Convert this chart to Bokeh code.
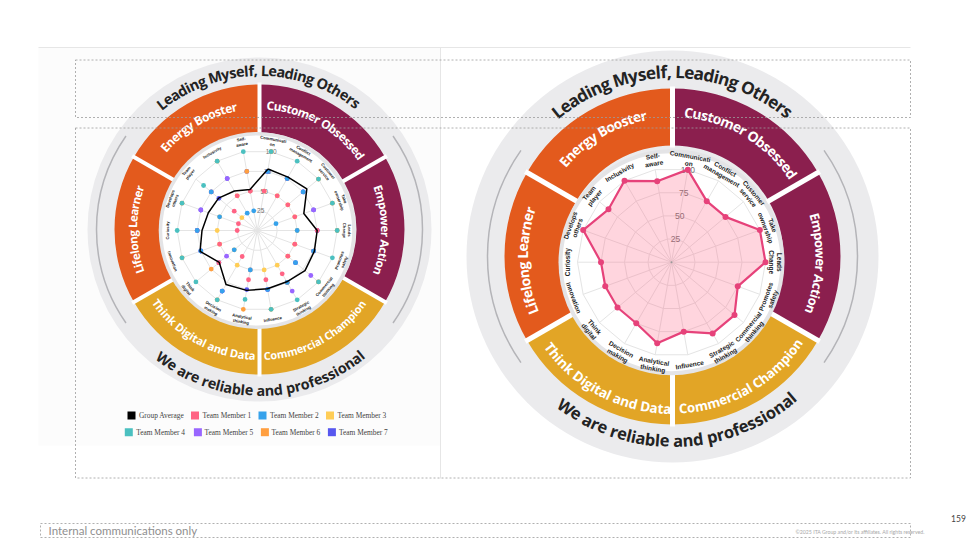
import numpy as np
from bokeh.plotting import figure
from bokeh.models import Range1d
from bokeh.core.properties import value
from bokeh.embed import file_html
from bokeh.resources import INLINE

# ---------------- data ----------------
competencies = ["Communicati\non", "Conflict\nmanagement", "Customer\nservice", "Take\nownership",
                "Leads\nChange", "Promotes\nsafety", "Commercial\nthinking", "Strategic\nthinking",
                "Influence", "Analytical\nthinking", "Decision\nmaking", "Think\ndigital",
                "Innovation", "Curiosity", "Develops\nothers", "Team\nplayer", "Inclusivity", "Self-\naware"]
scale_ticks = [25, 50, 75, 100]

group_average = [78, 77, 81, 62, 75, 76, 78, 74, 74, 76, 78, 62, 76, 69, 65, 63, 57, 52]
team_member_1 = [50, 50, 50, 50, 75, 50, 50, 62.5, 62.5, 62.5, 37.5, 62.5, 50, 25, 25, 37.5, 50, 50]
team_member_2 = [75, 75, 75, 25, 50, 75, 62.5, 75, 75, 50, 87.5, 37.5, 75, 75, 50, 75, 25, 25]
team_member_3 = [50, 50, 50, 50, 50, 50, 50, 50, 50, 50, 50, 37.5, 50, 50, 50, 25, 50, 50]
team_member_4 = [100, 100, 100, 100, 100, 100, 100, 100, 100, 87.5, 100, 100, 100, 100, 100, 87.5, 100, 100]
team_member_5 = [75, 75, 75, 75, 75, 75, 87.5, 87.5, 75, 50, 87.5, 50, 75, 75, 75, 75, 75, 50]
team_member_6 = [100, 75, 100, 100, 100, 75, 100, 75, 100, 100, 100, 75, 100, 75, 100, 75, 100, 75]
team_member_7 = [75, 75, 75, 75, 75, 75, 62.5, 75, 75, 75, 87.5, 62.5, 75, 75, 75, 62.5, 75, 75]
individual_scores = [100, 75, 75, 100, 100, 75, 87.5, 87.5, 75, 87.5, 75, 75, 75, 75, 100, 87.5, 100, 87.5]

series_names = ["Group Average", "Team Member 1", "Team Member 2", "Team Member 3",
                "Team Member 4", "Team Member 5", "Team Member 6", "Team Member 7"]
series_colors = ["#000000", "#ff6384", "#36a2eb", "#ffcd56", "#4bc0c0", "#9966ff", "#ff9f40", "#5757ef"]
members = [team_member_1, team_member_2, team_member_3, team_member_4,
           team_member_5, team_member_6, team_member_7]

ring_top = "Leading Myself, Leading Others"
ring_bottom = "We are reliable and professional"
segment_names = ["Customer Obsessed", "Empower Action", "Commercial Champion",
                 "Think Digital and Data", "Lifelong Learner", "Energy Booster"]
segment_colors = ["#8b1f4e", "#8b1f4e", "#e2a526", "#e2a526", "#e35a1d", "#e35a1d"]
segment_starts = [30, -30, -90, 210, 150, 90]

# ---------------- helpers ----------------
def Y(ys):
    return 549 - ys

CW = {' ': .26, ',': .27, '-': .32, 'A': .69, 'B': .66, 'C': .63, 'D': .72, 'E': .55, 'L': .53,
      'M': .92, 'O': .78, 'T': .56, 'W': .97, 'G': .72, 'P': .63, 'S': .55,
      'a': .59, 'b': .63, 'c': .51, 'd': .63, 'e': .59, 'f': .39, 'g': .56, 'h': .66, 'i': .30,
      'j': .30, 'k': .62, 'l': .30, 'm': .99, 'n': .66, 'o': .62, 'p': .63, 'q': .63, 'r': .45,
      's': .50, 't': .43, 'u': .66, 'v': .59, 'w': .87, 'x': .60, 'y': .59, 'z': .51}

p = figure(width=972, height=541, x_range=Range1d(0, 972), y_range=Range1d(8, 549),
           output_backend="svg", toolbar_location=None, x_axis_location=None,
           y_axis_location=None, min_border=0, outline_line_color=None)
p.grid.grid_line_color = None
p.background_fill_color = "white"
p.border_fill_color = "white"


def arc_text(text, cx, cy, r, a0, a1, clockwise, color, font="Open Sans", scale=1.0):
    w = np.array([CW.get(ch, 0.6) for ch in text])
    cum = np.cumsum(w) - w / 2
    frac = (cum - cum[0]) / (cum[-1] - cum[0])
    ang = np.deg2rad(a0 + frac * (a1 - a0))
    xs = cx + r * np.cos(ang)
    ys = cy + r * np.sin(ang)
    rot = ang - np.pi / 2 if clockwise else ang + np.pi / 2
    fs = abs(np.deg2rad(a1 - a0)) * r / (cum[-1] - cum[0]) * scale
    p.text(x=list(xs), y=list(ys), text=list(text), angle=list(rot), text_align="center",
           text_baseline="middle", text_font=value(font), text_font_style="bold",
           text_font_size=value(f"{fs:.1f}px"), text_color=color)


def wheel(cx, cy, r_disc, r_arc, r_in, r_out, gap, texts, fscale):
    p.circle(x=[cx], y=[cy], radius=r_disc, fill_color="#ebebed", line_color=None)
    for a0, a1 in [(145, 215), (-35, 35)]:
        p.arc(x=[cx], y=[cy], radius=r_arc, start_angle=np.deg2rad(a0), end_angle=np.deg2rad(a1),
              line_color="#b4b4b8", line_width=1.5)
    for s, c in zip(segment_starts, segment_colors):
        p.annular_wedge(x=[cx], y=[cy], inner_radius=r_in, outer_radius=r_out,
                        start_angle=np.deg2rad(s), end_angle=np.deg2rad(s + 60),
                        fill_color=c, line_color=None)
    for a in [30, 90, 150, 210, 270, 330]:
        t = np.deg2rad(a)
        p.segment(x0=[cx + (r_in - 2) * np.cos(t)], y0=[cy + (r_in - 2) * np.sin(t)],
                  x1=[cx + (r_out + 2) * np.cos(t)], y1=[cy + (r_out + 2) * np.sin(t)],
                  line_color="white", line_width=gap)
    for (txt, r, a0, a1, cw, col) in texts:
        arc_text(txt, cx, cy, r, a0, a1, cw, col, scale=fscale)


def radar_xy(cx, cy, scale, vals, phis=None):
    vals = np.asarray(vals, dtype=float)
    if phis is None:
        phis = 10 + 20 * np.arange(len(vals))
    ang = np.deg2rad(np.asarray(phis, dtype=float))
    r = vals * scale
    return cx + r * np.sin(ang), cy + r * np.cos(ang)


def radar_frame(cx, cy, scale, r_lab, lab_fs, tick_fs, r_white, r_band):
    p.circle(x=[cx], y=[cy], radius=r_band, fill_color="#e4e4e6", line_color=None)
    p.circle(x=[cx], y=[cy], radius=r_white, fill_color="white", line_color=None)
    for t in scale_ticks:
        xs, ys = radar_xy(cx, cy, scale, [t] * 18)
        p.patch(x=list(xs) + [xs[0]], y=list(ys) + [ys[0]], fill_color=None,
                line_color="#e4e4e4", line_width=1)
    xe, ye = radar_xy(cx, cy, scale, [100] * 18)
    p.segment(x0=[cx] * 18, y0=[cy] * 18, x1=list(xe), y1=list(ye), line_color="#e4e4e4", line_width=1)
    lx, ly, la = [], [], []
    for i, lab in enumerate(competencies):
        phi = 10 + 20 * i
        t = np.deg2rad(phi)
        lx.append(cx + r_lab * np.sin(t))
        ly.append(cy + r_lab * np.cos(t))
        if 90 < phi < 270:
            rot = 180 - phi
        else:
            rot = -(phi if phi <= 90 else phi - 360)
        la.append(np.deg2rad(rot))
    p.text(x=lx, y=ly, text=competencies, angle=la, text_align="center", text_baseline="middle",
           text_font=value("Liberation Sans"), text_font_style="bold",
           text_font_size=value(f"{lab_fs}px"), text_color="#222222", text_line_height=1.05)
    tx, ty = radar_xy(cx, cy, scale, scale_ticks, [10] * len(scale_ticks))
    p.text(x=list(tx), y=list(ty), text=[str(t) for t in scale_ticks], text_align="center",
           text_baseline="middle", text_font=value("Liberation Sans"),
           text_font_size=value(f"{tick_fs}px"), text_color="#707070")


# faint left panel
p.quad(left=[38], right=[440], top=[Y(47)], bottom=[Y(445)], fill_color="#fcfcfc", line_color=None)

# ---------------- left wheel ----------------
LCX, LCY = 259, Y(229)
left_texts = [
    (ring_top, 159, 128, 52.7, True, "#232323"),
    (ring_bottom, 161, 233.4, 309, False, "#232323"),
    ("Energy Booster", 125, 139, 101.6, True, "white"),
    ("Customer Obsessed", 125, 85, 36.5, True, "white"),
    ("Empower Action", 126, 19, -19.4, True, "white"),
    ("Lifelong Learner", 127, 198.7, 161, True, "white"),
    ("Think Digital and Data", 126, 215.5, 266.7, False, "white"),
    ("Commercial Champion", 126, 273.5, 323.7, False, "white"),
]
wheel(LCX, LCY, 172, 163, 97, 145, 4, left_texts, 1.04)
LRX, LRY = 256.7, Y(230)
radar_frame(LRX, LRY, 0.80, 90, 4.2, 6.5, 95, 98.5)
for vals, col in reversed(list(zip(members, series_colors[1:]))):
    xs, ys = radar_xy(LRX, LRY, 0.80, vals)
    p.scatter(x=list(xs), y=list(ys), size=4.8, fill_color=col, line_color=None)
gx, gy = radar_xy(LRX, LRY, 0.80, group_average)
p.line(x=list(gx) + [gx[0]], y=list(gy) + [gy[0]], line_color="black", line_width=1.5)

leg_rows = [(Y(415), [(131, 138.5), (194.5, 202), (262, 269.5), (329.5, 337)]),
            (Y(431.7), [(128.3, 135.7), (197.4, 204), (264.4, 271), (331.4, 338.5)])]
k = 0
for ly, items in leg_rows:
    for (sx, tx) in items:
        p.rect(x=[sx], y=[ly], width=8, height=8, fill_color=series_colors[k], line_color=None)
        p.text(x=[tx], y=[ly], text=[series_names[k]], text_align="left", text_baseline="middle",
               text_font=value("Liberation Serif"), text_font_size=value("7.4px"), text_color="#444444")
        k += 1

# ---------------- right wheel ----------------
RCX, RCY = 672, Y(256)
right_texts = [
    (ring_top, 185, 128.4, 51.6, True, "#232323"),
    (ring_bottom, 184, 234.6, 310.4, False, "#232323"),
    ("Energy Booster", 144, 138.8, 101.6, True, "white"),
    ("Customer Obsessed", 145, 83.6, 34.8, True, "white"),
    ("Empower Action", 148, 15.6, -21, True, "white"),
    ("Lifelong Learner", 150, 201, 162, True, "white"),
    ("Think Digital and Data", 152, 216.5, 268, False, "white"),
    ("Commercial Champion", 152, 274, 325, False, "white"),
]
wheel(RCX, RCY, 206, 185, 111, 168, 5, right_texts, 1.04)
RRX, RRY = 671, Y(261.7)
radar_frame(RRX, RRY, 0.94, 104, 6.5, 8.5, 109, 113)
xs, ys = radar_xy(RRX, RRY, 0.94, individual_scores)
p.patch(x=list(xs), y=list(ys), fill_color="#ff6384", fill_alpha=0.27, line_color="#e6427a", line_width=2.2)
p.scatter(x=list(xs), y=list(ys), size=6, fill_color="#e6427a", line_color=None)
p.scatter(x=[RRX], y=[RRY], size=2, fill_color="#999999", line_color=None)

# ---------------- slide frame ----------------
p.segment(x0=[38], y0=[Y(47)], x1=[910], y1=[Y(47)], line_color="#e6e6e6", line_width=1)
p.segment(x0=[440], y0=[Y(47)], x1=[440], y1=[Y(478)], line_color="#e6e6e6", line_width=1)
p.quad(left=[75, 75], right=[910, 910], top=[Y(59.5), Y(127.5)], bottom=[Y(117), Y(477.5)],
       fill_color=None, line_color="#9c9c9c", line_width=0.8, line_dash="2 2")
p.quad(left=[40], right=[910], top=[Y(523)], bottom=[Y(537)], fill_color=None,
       line_color="#9c9c9c", line_width=0.8, line_dash="2 2")
p.text(x=[48], y=[Y(530)], text=["Internal communications only"], text_align="left",
       text_baseline="middle", text_font=value("Lato"), text_font_size=value("11.5px"),
       text_color="#8f8f8f")
p.text(x=[795], y=[Y(531)], text=["\u00a92025 ITA Group and/or its affiliates. All rights reserved."],
       text_align="left", text_baseline="middle", text_font=value("Lato"),
       text_font_size=value("5.2px"), text_color="#a8a8a8")
p.text(x=[958], y=[Y(518)], text=["159"], text_align="center", text_baseline="middle",
       text_font=value("Lato"), text_font_size=value("8.5px"), text_color="#444444")

open("out.html", "w").write(file_html(p, INLINE))
